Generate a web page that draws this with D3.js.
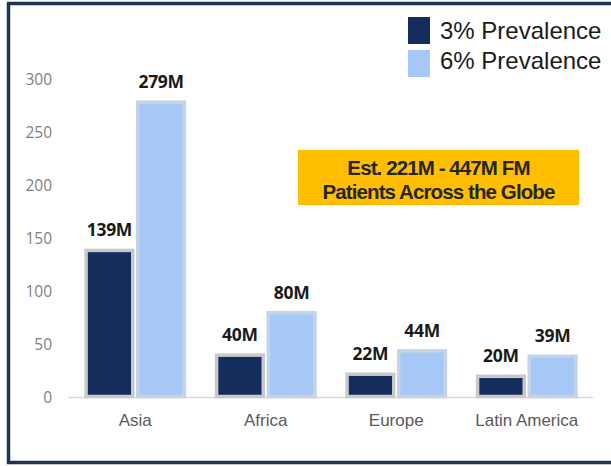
<!DOCTYPE html>
<html>
<head>
<meta charset="utf-8">
<script src="https://cdn.jsdelivr.net/npm/d3@7"></script>
<style>
  html, body { margin: 0; padding: 0; background: #fff; }
  svg { display: block; }
</style>
</head>
<body>
<svg id="chart" width="611" height="466"></svg>
<script>
// ====== Data ======
const regions = ["Asia", "Africa", "Europe", "Latin America"];
const seriesNames = ["3% Prevalence", "6% Prevalence"];
const prev3 = [139, 40, 22, 20];
const prev6 = [279, 80, 44, 39];
const yTicks = [0, 50, 100, 150, 200, 250, 300];
const calloutLines = ["Est. 221M - 447M FM", "Patients Across the Globe"];

const colors = ["#152d5c", "#a5c8f6"];

const svg = d3.select("#chart");

// frame (the right edge runs off the picture)
svg.append("rect")
  .attr("x", 8.5).attr("y", 3.5)
  .attr("width", 640).attr("height", 459)
  .attr("fill", "#fff")
  .attr("stroke", "#1d3557")
  .attr("stroke-width", 3.5);

// ====== Scales ======
const x0 = d3.scaleBand().domain(regions).range([70, 592]).paddingInner(0.2).paddingOuter(0.1);
const x1 = d3.scaleBand().domain(seriesNames).range([0, x0.bandwidth()]).padding(0.02);
const y = d3.scaleLinear().domain([0, 300]).range([397.5, 80]);

// y tick labels (no axis line)
svg.append("g")
  .selectAll("text")
  .data(yTicks)
  .join("text")
  .attr("x", 52)
  .attr("y", d => y(d))
  .attr("dy", "0.35em")
  .attr("text-anchor", "end")
  .attr("font-family", "Open Sans, sans-serif")
  .attr("font-size", 15.5)
  .attr("fill", "#7f7f7f")
  .text(d => d);

// baseline
svg.append("line")
  .attr("x1", 68).attr("x2", 593)
  .attr("y1", y(0)).attr("y2", y(0))
  .attr("stroke", "#d9d9d9")
  .attr("stroke-width", 1.5);

// ====== Bars ======
const rows = regions.map((r, i) => ({ region: r, values: [prev3[i], prev6[i]] }));

const groups = svg.append("g")
  .selectAll("g")
  .data(rows)
  .join("g")
  .attr("transform", d => `translate(${x0(d.region)},0)`);

groups.selectAll("rect")
  .data(d => d.values.map((v, j) => ({ key: seriesNames[j], v, j })))
  .join("rect")
  .attr("x", d => x1(d.key) + 2)
  .attr("width", x1.bandwidth() - 4)
  .attr("y", d => y(d.v))
  .attr("height", d => y(0) - y(d.v) - 1)
  .attr("fill", d => colors[d.j])
  .attr("stroke", d => d.j === 0 ? "#c9c9c9" : "#c4d3e6")
  .attr("stroke-width", 3.5);

groups.selectAll("text")
  .data(d => d.values.map((v, j) => ({ key: seriesNames[j], v, j })))
  .join("text")
  .attr("x", d => x1(d.key) + x1.bandwidth() / 2)
  .attr("y", d => y(d.v) - 14)
  .attr("text-anchor", "middle")
  .attr("font-family", "Open Sans, sans-serif")
  .attr("font-weight", 700)
  .attr("font-size", 17.5)
  .attr("letter-spacing", -0.3)
  .attr("fill", "#1a1a1a")
  .text(d => d.v + "M");

// category labels
svg.append("g")
  .selectAll("text")
  .data(regions)
  .join("text")
  .attr("x", d => x0(d) + x0.bandwidth() / 2)
  .attr("y", 426)
  .attr("text-anchor", "middle")
  .attr("font-family", "Liberation Sans, Arial, sans-serif")
  .attr("font-size", 17)
  .attr("fill", "#595959")
  .text(d => d);

// ====== Legend ======
const legend = svg.append("g")
  .selectAll("g")
  .data(seriesNames)
  .join("g")
  .attr("transform", (d, i) => `translate(408,${17 + i * 33})`);

legend.append("rect")
  .attr("width", 22).attr("height", 27)
  .attr("fill", (d, i) => colors[i]);

legend.append("text")
  .attr("x", 32)
  .attr("y", (d, i) => i === 0 ? 14 : 11)
  .attr("dy", "0.35em")
  .attr("font-family", "Liberation Sans, Arial, sans-serif")
  .attr("font-size", 24)
  .attr("fill", "#1a1a1a")
  .text(d => d);

// ====== Callout ======
svg.append("rect")
  .attr("x", 298).attr("y", 150)
  .attr("width", 281).attr("height", 55)
  .attr("fill", "#ffbf00");

svg.append("g")
  .selectAll("text")
  .data(calloutLines)
  .join("text")
  .attr("x", 438.5)
  .attr("y", (d, i) => 175 + i * 24)
  .attr("text-anchor", "middle")
  .attr("font-family", "Liberation Sans, Arial, sans-serif")
  .attr("font-weight", 700)
  .attr("font-size", 20.5)
  .attr("letter-spacing", -0.9)
  .attr("fill", "#262626")
  .text(d => d);
</script>
</body>
</html>
